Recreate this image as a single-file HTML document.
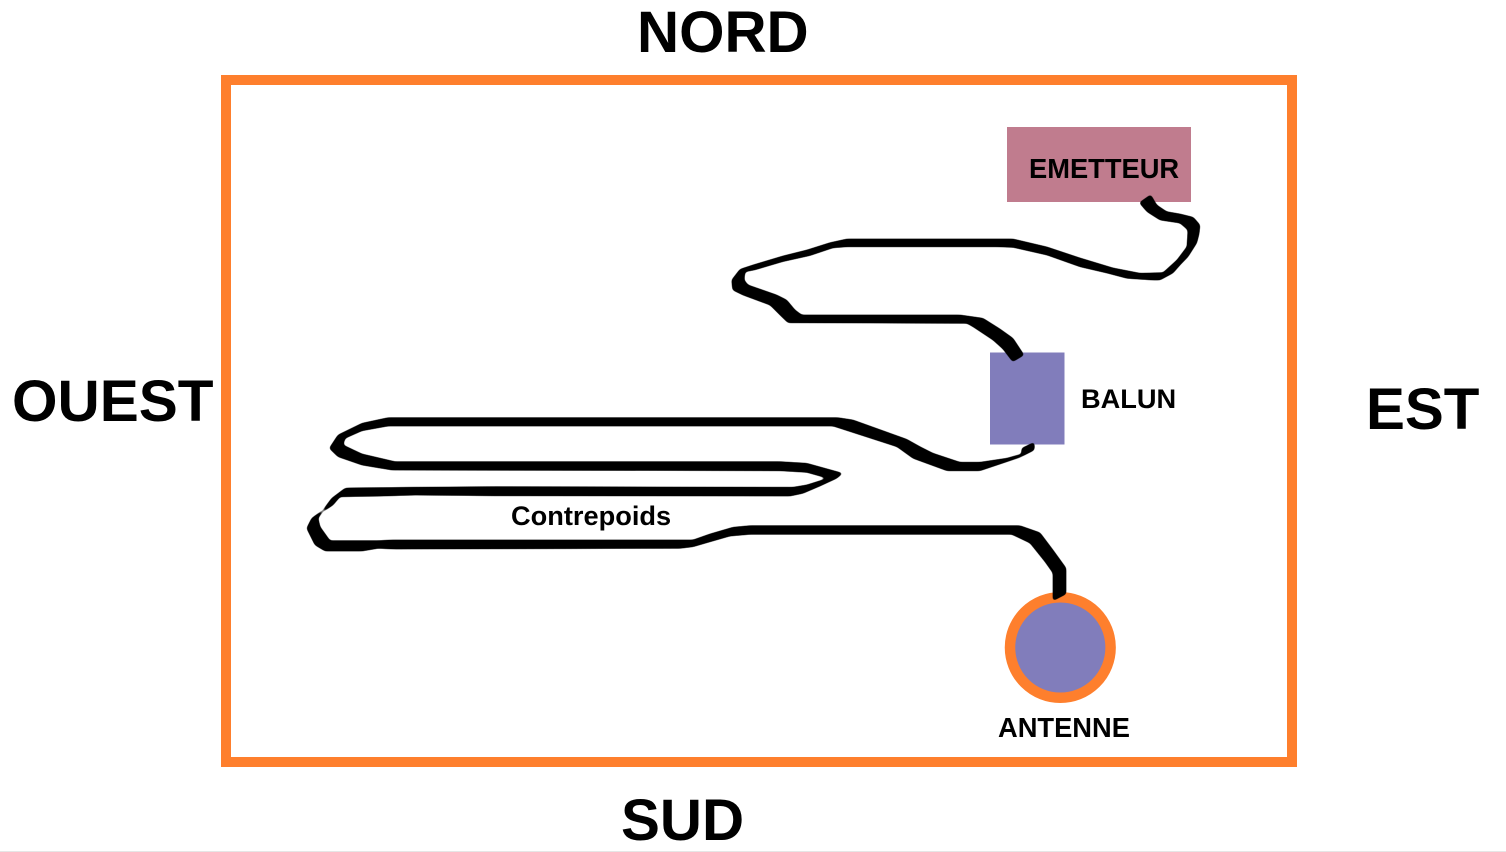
<!DOCTYPE html>
<html><head><meta charset="utf-8"><style>
html,body{margin:0;padding:0;background:#fff;width:1506px;height:852px;overflow:hidden}
svg{display:block}
text{font-family:"Liberation Sans",sans-serif;font-weight:bold;fill:#000}
</style></head><body>
<svg width="1506" height="852" viewBox="0 0 1506 852" xmlns="http://www.w3.org/2000/svg">
<defs>
<filter id="smooth" filterUnits="userSpaceOnUse" x="280" y="170" width="950" height="450" color-interpolation-filters="sRGB">
<feGaussianBlur stdDeviation="1.500"/>
<feComponentTransfer><feFuncA type="linear" slope="5" intercept="-1.800"/></feComponentTransfer>
</filter>
</defs>
<rect width="1506" height="852" fill="#fff"/>
<rect x="0" y="851" width="1506" height="1" fill="#e6e6e6"/>
<rect x="226" y="80" width="1066" height="682" fill="none" stroke="#fe7f2d" stroke-width="10"/>
<rect x="1007" y="127" width="184" height="75" fill="#c07c8e"/>
<rect x="990" y="352.500" width="74.500" height="92" fill="#817dbb"/>
<circle cx="1060.300" cy="647.500" r="50.300" fill="#817dbb" stroke="#fe7f2d" stroke-width="10.500"/>

<g fill="#000" stroke="#000" stroke-width="0.400" stroke-linejoin="round" filter="url(#smooth)">
<path d="M1139.300,202.700 L1150.700,194.700 L1156.700,205 L1166.700,211.700 L1180,214 L1193.300,217.300 L1200,225 L1199,234 L1196.700,243 L1188,256.700 L1180,265 L1173,273 L1160,280 L1153,280 L1127,278.300 L1107,273 L1080,266.700 L1047,255 L1013,247.300 L997,246.700 L847,246.700 L833,247.800 L810,255.500 L783,261.500 L755,269.800 L745,271.700 L744,280 L748,285 L776.700,295 L786.700,300 L795,310 L801.700,315 L960,315 L983,318.300 L1000,329 L1013,338.300 L1024,355 L1012.700,361.700 L1003,349 L993,340 L973,326.700 L967,323.300 L788,322.700 L780,315 L770,305 L743,295 L732.700,290 L731.700,280 L740,269.300 L753,265 L783,256 L807,250 L830,242.700 L847,239 L1003,239 L1013,239 L1047,247 L1080,258 L1113,268 L1140,273.300 L1163,272.700 L1177,260 L1187,246.700 L1188,230 L1180,223 L1160,220 L1147,211.700 Z"/>
<path d="M1034.300,442.300 L1021.700,448.300 L1021.700,454 L1006.700,458.300 L980,462.300 L960,462.300 L933,453.300 L920,446.700 L906.700,439.300 L853,420 L838,417.700 L388,417.700 L362,423.300 L338,435 L329.300,448.300 L338,456.700 L362,465 L392,470 L780,470.700 L806.700,472.300 L828,478.300 L806.700,485 L793,487.300 L495,486.700 L415,487.300 L348,488 L345,488.300 L331.700,498.300 L323,510 L311.700,518.300 L306.700,528.300 L315,545 L325,551 L362,551 L378,548.300 L395,549 L680,548.300 L693,546.700 L706.700,542.700 L730,536 L750,534.300 L1011.700,534.300 L1030,543 L1045,561.700 L1053,573 L1053,600.700 L1066,594 L1066,568 L1053,550 L1040,532.700 L1020,525.700 L750,525.700 L733,527.300 L710,534 L693,540 L680,540 L391.700,540 L378,540.700 L330,540.700 L320,526.700 L318,518 L323,511.700 L333,505 L340,496.700 L382,496 L415,495 L495,495.700 L790,496 L803,493.300 L820,486 L836.700,478.300 L842.700,473.300 L806.700,463.300 L780,461.700 L395,461.700 L362,454 L343,445 L345,438.300 L362,430.700 L388,426 L833,426 L897,446.700 L913,458.300 L947,470.700 L980,470.700 L1020,457.300 L1034.300,450 Z"/>
</g>

<text x="637" y="52" font-size="58.300">NORD</text>
<text x="12" y="421" font-size="58.500">OUEST</text>
<text x="1366" y="429" font-size="58.300">EST</text>
<text x="621" y="840" font-size="58.300">SUD</text>
<text x="1029" y="178" font-size="27.300">EMETTEUR</text>
<text x="1081" y="408" font-size="27.200">BALUN</text>
<text x="511" y="525" font-size="27.200">Contrepoids</text>
<text x="998" y="737" font-size="27.300">ANTENNE</text>
</svg>
</body></html>
